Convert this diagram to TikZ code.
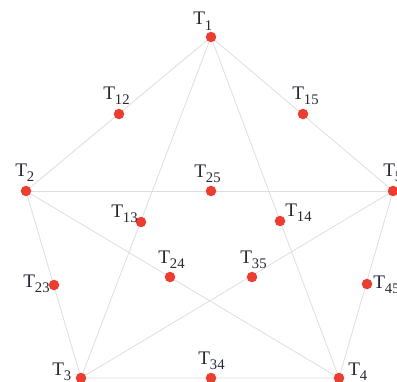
\documentclass[tikz,border=0pt]{standalone}
\usepackage{fontspec}
\setmainfont{Liberation Serif}
\usepackage{tikz}
\usetikzlibrary{backgrounds}
\definecolor{dotred}{RGB}{236,62,48}
\definecolor{edgegray}{RGB}{222,222,222}
\definecolor{labelink}{RGB}{38,40,52}
\newcommand{\tsub}[1]{T\raisebox{-4.2pt}{\fontsize{11}{12}\selectfont #1}}
\tikzset{
  vertex/.style={circle, fill=dotred, draw=none, inner sep=0pt, minimum size=7.9pt},
  tlabel/.style={anchor=base west, inner sep=0pt, text=labelink, font=\fontsize{14.4}{17}\selectfont},
  edge/.style={draw=edgegray, line width=0.6pt}
}

\begin{document}
\begin{tikzpicture}[x=0.75pt,y=0.75pt,yscale=-1,xscale=1]
    \useasboundingbox (0,0) rectangle (397,382);
    % outer points
    \node [vertex] (T1) at (211,37) {};
    \node [vertex] (T2) at (26,191) {};
    \node [vertex] (T3) at (81,378) {};
    \node [vertex] (T4) at (339,378) {};
    \node [vertex] (T5) at (393,191) {};
    % points on the sides
    \node [vertex] (T12) at (119,114) {};
    \node [vertex] (T15) at (303,114) {};
    \node [vertex] (T25) at (211,191) {};
    \node [vertex] (T23) at (54,285) {};
    \node [vertex] (T45) at (367,284) {};
    \node [vertex] (T34) at (211,378) {};
    % points on the diagonals
    \node [vertex] (T13) at (141,222) {};
    \node [vertex] (T14) at (280,221) {};
    \node [vertex] (T24) at (170,277) {};
    \node [vertex] (T35) at (252,277) {};
    \begin{scope}[on background layer]
    \draw [edge] (T1.center) -- (T2.center) -- (T3.center) -- (T4.center) -- (T5.center) -- cycle ;
    \draw [edge] (T1.center) -- (T3.center) ;
    \draw [edge] (T1.center) -- (T4.center) ;
    \draw [edge] (T2.center) -- (T5.center) ;
    \draw [edge] (T2.center) -- (T4.center) ;
    \draw [edge] (T3.center) -- (T5.center) ;
    \end{scope}
    \node [tlabel] (lT1) at (193,25) {\tsub{1}};
    \node [tlabel] (lT2) at (15,176) {\tsub{2}};
    \node [tlabel] (lT3) at (52,375) {\tsub{3}};
    \node [tlabel] (lT4) at (348,375) {\tsub{4}};
    \node [tlabel] (lT5) at (383,176) {\tsub{5}};
    \node [tlabel] (lT12) at (103,99) {\tsub{12}};
    \node [tlabel] (lT15) at (292,99) {\tsub{15}};
    \node [tlabel] (lT25) at (194,177) {\tsub{25}};
    \node [tlabel] (lT23) at (23,287) {\tsub{23}};
    \node [tlabel] (lT45) at (373,288) {\tsub{45}};
    \node [tlabel] (lT34) at (198,364) {\tsub{34}};
    \node [tlabel] (lT13) at (111,217) {\tsub{13}};
    \node [tlabel] (lT14) at (285,216) {\tsub{14}};
    \node [tlabel] (lT24) at (158,263) {\tsub{24}};
    \node [tlabel] (lT35) at (240,263) {\tsub{35}};
\end{tikzpicture}
\end{document}
